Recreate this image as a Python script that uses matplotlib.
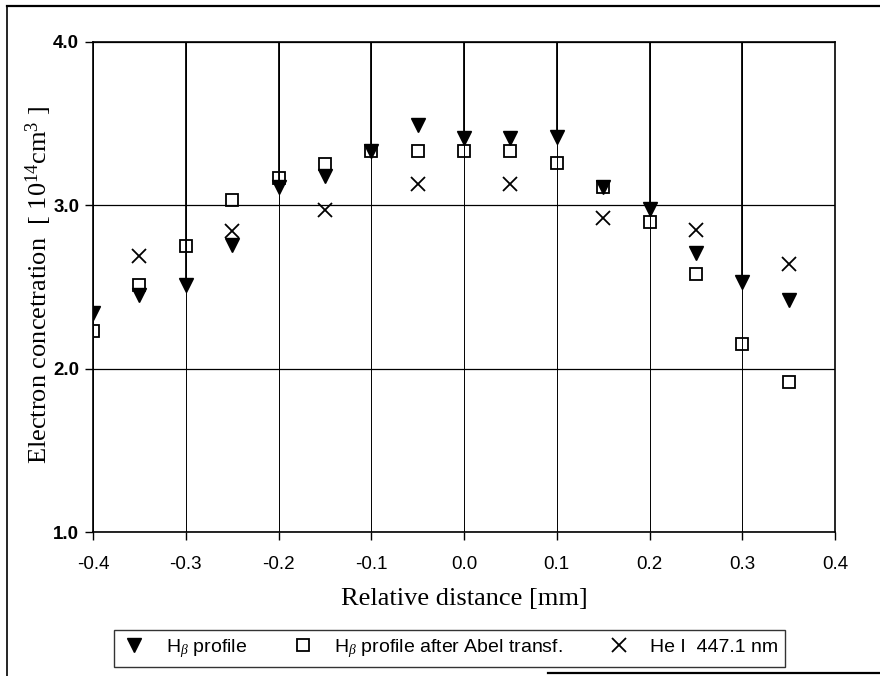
import numpy as np
import matplotlib.pyplot as plt
from matplotlib.lines import Line2D

plt.rcParams['mathtext.fontset'] = 'custom'
plt.rcParams['mathtext.rm'] = 'Liberation Serif'
plt.rcParams['mathtext.it'] = 'Liberation Serif:italic'

# data
x_hb = [-0.4, -0.35, -0.3, -0.25, -0.2, -0.15, -0.1, -0.05, 0.0, 0.05, 0.1, 0.15, 0.2, 0.25, 0.3, 0.35]
hb = [2.34, 2.45, 2.51, 2.76, 3.11, 3.18, 3.33, 3.49, 3.41, 3.41, 3.42, 3.11, 2.98, 2.71, 2.53, 2.42]
hb_abel = [2.23, 2.51, 2.75, 3.03, 3.17, 3.25, 3.33, 3.33, 3.33, 3.33, 3.26, 3.11, 2.90, 2.58, 2.15, 1.92]
x_he = [-0.35, -0.25, -0.15, -0.05, 0.05, 0.15, 0.25, 0.35]
he = [2.69, 2.84, 2.97, 3.13, 3.13, 2.92, 2.85, 2.64]

xticks = [-0.4, -0.3, -0.2, -0.1, 0.0, 0.1, 0.2, 0.3, 0.4]
yticks = [1.0, 2.0, 3.0, 4.0]

fig = plt.figure(figsize=(8.8, 6.76), dpi=100)
ax = fig.add_axes([0.1057, 0.2130, 0.8432, 0.7249])

# grid
for xv in xticks:
    ax.axvline(xv, color='k', lw=0.7, zorder=1)
for yv in yticks:
    ax.axhline(yv, color='k', lw=0.9, zorder=1)

# darker drop lines from top to the triangles (scan look)
for xv, yv in zip(x_hb, hb):
    if abs(round(xv * 10) - xv * 10) < 1e-6:
        ax.plot([xv, xv], [yv, 4.0], color='k', lw=1.3, zorder=1)

ax.plot(x_hb, hb, 'v', color='k', ms=10, ls='none', zorder=3, label=r'H$_\beta$ profile')
ax.plot(x_hb, hb_abel, 's', mfc='none', mec='k', mew=1.3, ms=9, ls='none', zorder=4,
        label=r'H$_\beta$ profile after Abel transf.')
ax.plot(x_he, he, 'x', color='k', ms=9.5, mew=1.3, ls='none', zorder=4, label='He I  447.1 nm')

ax.set_xlim(-0.4, 0.4)
ax.set_ylim(1.0, 4.0)
ax.set_xticks(xticks)
ax.set_xticklabels(['%.1f' % v for v in xticks], fontfamily='Liberation Sans', fontsize=13.5)
ax.set_yticks(yticks)
ax.set_yticklabels(['%.1f' % v for v in yticks], fontfamily='Liberation Sans', fontsize=13.5,
                   fontweight='bold')
ax.tick_params(axis='x', direction='out', length=6, width=1, color='k', pad=11)
ax.tick_params(axis='y', direction='out', length=6, width=1, color='k', pad=4)
for s in ax.spines.values():
    s.set_linewidth(1.2)
    s.set_color('k')

ax.set_xlabel('Relative distance [mm]', fontfamily='Liberation Serif', fontsize=19)
ax.xaxis.set_label_coords(0.5, -0.114)
ax.set_ylabel(r'Electron concetration  [ 10$^{14}$cm$^{3}$ ]', fontfamily='Liberation Serif',
              fontsize=19)
ax.yaxis.set_label_coords(-0.052, 0.505)

leg = fig.legend(loc='center', bbox_to_anchor=(0.511, 0.0407), ncol=3, frameon=True,
                 fancybox=False, edgecolor='k', prop={'family': 'Liberation Sans', 'size': 14},
                 handletextpad=0.9, columnspacing=2.2, borderpad=0.35, handlelength=1.4)
leg.get_frame().set_linewidth(1.0)

# outer frame of the scanned figure
W, H = 880.0, 676.0
fig.add_artist(Line2D([7 / W, 7 / W], [0, 1 - 6 / H], color='k', lw=1.2))
fig.add_artist(Line2D([7 / W, 1], [1 - 6 / H, 1 - 6 / H], color='k', lw=1.6))
fig.add_artist(Line2D([548 / W, 1], [1 - 673 / H, 1 - 673 / H], color='k', lw=1.6))

fig.savefig('out.png', dpi=100)
